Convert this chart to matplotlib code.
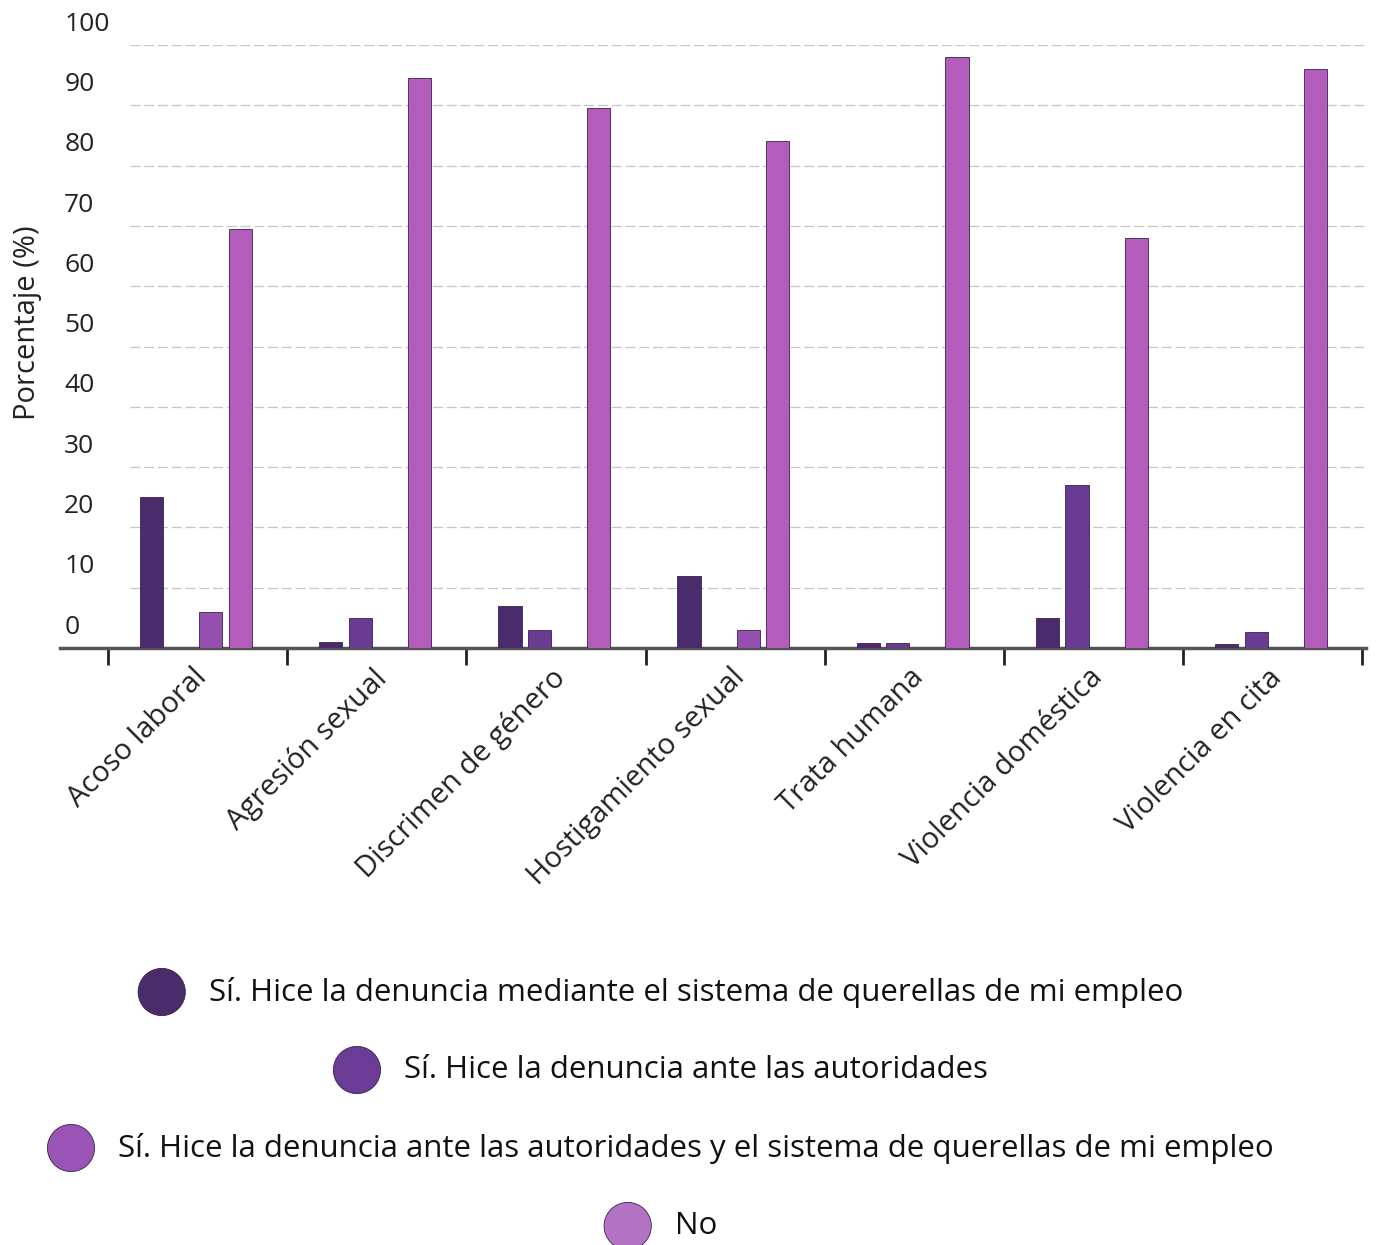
import matplotlib
matplotlib.use("Agg")
import matplotlib.pyplot as plt
import numpy as np
from matplotlib.offsetbox import HPacker, TextArea, DrawingArea, AnchoredOffsetbox
from matplotlib.patches import Circle

plt.rcParams['font.family'] = ['Open Sans', 'DejaVu Sans']

categories = ["Acoso laboral", "Agresión sexual", "Discrimen de género",
              "Hostigamiento sexual", "Trata humana", "Violencia doméstica",
              "Violencia en cita"]
series_names = ["Sí. Hice la denuncia mediante el sistema de querellas de mi empleo",
                "Sí. Hice la denuncia ante las autoridades",
                "Sí. Hice la denuncia ante las autoridades y el sistema de querellas de mi empleo",
                "No"]
empleo = [25, 1, 7, 12, 0.8, 5, 0.7]
autoridades = [0, 5, 3, 0, 0.8, 27, 2.7]
ambos = [6, 0, 0, 3, 0, 0, 0]
no = [69.5, 94.5, 89.5, 84, 98, 68, 96]
yticks = [0, 10, 20, 30, 40, 50, 60, 70, 80, 90, 100]

colors = ["#4a2c6c", "#693b93", "#9550b0", "#b35cbb"]
legend_colors = ["#4a2c6c", "#6a3c96", "#9a54b5", "#b273c3"]

W, H = 1376, 1245
fig = plt.figure(figsize=(W / 100, H / 100), dpi=100)
ax = fig.add_axes([60 / W, 1 - 648 / H, 1306 / W, 603 / H])

x = np.arange(len(categories))
width = 0.13
step = 0.165
for j, vals in enumerate([empleo, autoridades, ambos, no]):
    ax.bar(x + 0.49 + (j - 1.5) * step, vals, width, color=colors[j],
           edgecolor="#3a2050", linewidth=0.6, zorder=3)

ax.set_xlim(-0.268, 7.02)
ax.set_ylim(0, 100)

for v in yticks:
    if v > 0:
        ax.axhline(v, xmin=70 / 1306, xmax=1, color="#a0a0a0", lw=0.9,
                   ls=(0, (8, 3)), alpha=0.6, zorder=1)
    ax.annotate(str(v), xy=(0, v), xycoords=("axes fraction", "data"),
                xytext=(3, 15), textcoords="offset points", va="center",
                ha="left", fontsize=19, color="#222222")

for s in ["top", "right", "left"]:
    ax.spines[s].set_visible(False)
ax.spines["bottom"].set_color("#555555")
ax.spines["bottom"].set_linewidth(2.5)
ax.set_yticks([])
ax.set_xticks(np.arange(len(categories) + 1))
ax.set_xticklabels([])
ax.tick_params(axis="x", length=12, width=2, color="#222222", direction="out")

for i, c in enumerate(categories):
    ax.annotate(c, xy=(i + 0.47, 0), xycoords="data", xytext=(0, -11),
                textcoords="offset points", rotation=45, ha="right", va="top",
                rotation_mode="anchor", fontsize=21, color="#222222")

fig.text(28 / W, 1 - 323 / H, "Porcentaje (%)", rotation=90, ha="center",
         va="center", fontsize=21, color="#222222")

rows_y = [992, 1070, 1148, 1226]
for j, name in enumerate(series_names):
    da = DrawingArea(36, 36, 0, 0)
    da.add_artist(Circle((18, 18), 17, facecolor=legend_colors[j],
                         edgecolor="#3a2050", linewidth=0.6))
    ta = TextArea(name, textprops=dict(fontsize=22.5, color="#111111"))
    box = HPacker(children=[da, ta], align="center", pad=0, sep=16)
    anch = AnchoredOffsetbox(loc="center", child=box, pad=0, frameon=False,
                             bbox_to_anchor=(660 / W, 1 - rows_y[j] / H),
                             bbox_transform=fig.transFigure)
    fig.add_artist(anch)

fig.savefig("out.png", dpi=100, facecolor="white")
